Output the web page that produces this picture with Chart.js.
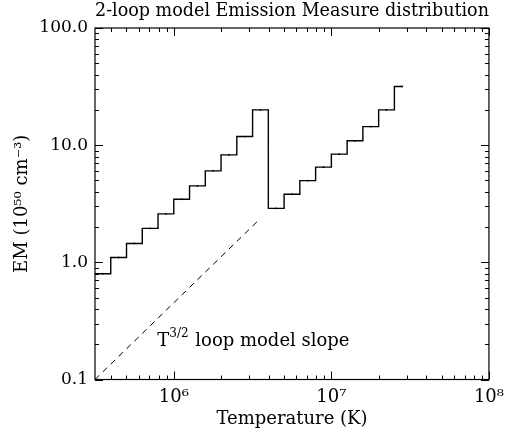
<!DOCTYPE html>
<html>
<head>
<meta charset="utf-8">
<script src="https://cdn.jsdelivr.net/npm/chart.js@4.4.1/dist/chart.umd.min.js"></script>
<style>
  html, body { margin: 0; padding: 0; background: #fff; }
  #wrap { width: 511px; height: 432px; }
</style>
</head>
<body>
<div id="wrap"><canvas id="drawChart" width="511" height="432"></canvas></div>
<script>
// histogram bin centres, log10 T (first one lies left of the axis and is clipped)
var logTemp = [5.45, 5.55, 5.65, 5.75, 5.85, 5.95, 6.05, 6.15, 6.25, 6.35, 6.45, 6.55,
               6.65, 6.75, 6.85, 6.95, 7.05, 7.15, 7.25, 7.35, 7.45];
// emission measure, 10^50 cm^-3
var emValues = [0.80, 0.80, 1.10, 1.45, 1.95, 2.59, 3.45, 4.49, 6.03, 8.26, 11.85, 20.0,
                2.89, 3.81, 4.98, 6.49, 8.38, 10.9, 14.4, 20.0, 31.7];
// T^3/2 reference slope (dashed)
var slopeLogTemp = [5.5, 6.54];
var slopeEm = [0.1, 2.3];
// annotation anchor
var noteLogTemp = 5.895;
var noteEm = 0.193;

var xTickValues = [1e6, 1e7, 1e8];
var xTickLabels = ['10\u2076', '10\u2077', '10\u2078'];
var yTickValues = [0.1, 1, 10, 100];
var yTickLabels = ['0.1', '1.0', '10.0', '100.0'];

var xMin = Math.pow(10, 5.5), xMax = 1e8;
var yMin = 0.1, yMax = 100;

var serif = '"DejaVu Serif", serif';

var histData = logTemp.map(function (lt, i) {
	return { x: Math.pow(10, lt), y: emValues[i] };
});
var slopeData = slopeLogTemp.map(function (lt, i) {
	return { x: Math.pow(10, lt), y: slopeEm[i] };
});

// box + inward minor/major ticks on all four sides, plus the slope label
var framePlugin = {
	id: 'frame',
	afterDraw: function (chart) {
		var ctx = chart.ctx, a = chart.chartArea;
		var xs = chart.scales.x, ys = chart.scales.y;
		ctx.save();
		ctx.strokeStyle = '#000';
		ctx.lineWidth = 1.2;
		ctx.strokeRect(a.left, a.top, a.right - a.left, a.bottom - a.top);
		ctx.lineWidth = 1;
		ctx.beginPath();
		for (var n = 5; n <= 8; n++) {
			for (var m = 1; m <= 9; m++) {
				var v = m * Math.pow(10, n);
				if (v < xMin * 0.999 || v > xMax * 1.001) continue;
				var px = Math.round(xs.getPixelForValue(v)) + 0.5;
				var len = m === 1 ? 8 : 4;
				ctx.moveTo(px, a.bottom); ctx.lineTo(px, a.bottom - len);
				ctx.moveTo(px, a.top); ctx.lineTo(px, a.top + len);
			}
		}
		for (var n2 = -1; n2 <= 2; n2++) {
			for (var m2 = 1; m2 <= 9; m2++) {
				var w = m2 * Math.pow(10, n2);
				if (w < yMin * 0.999 || w > yMax * 1.001) continue;
				var py = Math.round(ys.getPixelForValue(w)) + 0.5;
				var len2 = m2 === 1 ? 8 : 4;
				ctx.moveTo(a.left, py); ctx.lineTo(a.left + len2, py);
				ctx.moveTo(a.right, py); ctx.lineTo(a.right - len2, py);
			}
		}
		ctx.stroke();

		// T^{3/2} loop model slope
		var tx = xs.getPixelForValue(Math.pow(10, noteLogTemp));
		var ty = ys.getPixelForValue(noteEm);
		ctx.fillStyle = '#000';
		ctx.textBaseline = 'alphabetic';
		ctx.textAlign = 'left';
		ctx.font = '18px ' + serif;
		ctx.fillText('T', tx, ty);
		var tw = ctx.measureText('T').width;
		ctx.font = '12px ' + serif;
		ctx.fillText('3/2', tx + tw, ty - 9);
		var sw = ctx.measureText('3/2').width;
		ctx.font = '18px ' + serif;
		ctx.fillText(' loop model slope', tx + tw + sw + 1, ty);
		ctx.restore();
	}
};

var ctx = document.getElementById('drawChart').getContext('2d');
var drawChart = new Chart(ctx, {
	type: 'line',
	data: {
		datasets: [{
			data: histData,
			stepped: 'middle',
			borderColor: '#000',
			borderWidth: 1.4,
			pointRadius: 0.9,
			pointBackgroundColor: '#000',
			pointBorderWidth: 0,
			fill: false,
			clip: 0
		}, {
			data: slopeData,
			borderColor: '#000',
			borderWidth: 1,
			borderDash: [6, 5],
			pointRadius: 0,
			fill: false,
			clip: 0
		}]
	},
	options: {
		responsive: false,
		animation: false,
		events: [],
		layout: { padding: { left: 0, right: 15, top: 0, bottom: 0 } },
		plugins: {
			legend: { display: false },
			tooltip: { enabled: false },
			title: {
				display: true,
				text: '2-loop model Emission Measure distribution',
				fullSize: false,
				color: '#000',
				font: { family: serif, size: 18, weight: 'normal' },
				padding: { top: 1, bottom: 5.4 }
			}
		},
		scales: {
			x: {
				type: 'logarithmic',
				min: xMin,
				max: xMax,
				afterBuildTicks: function (scale) {
					scale.ticks = xTickValues.map(function (v) { return { value: v, major: true }; });
				},
				afterFit: function (scale) { scale.height = 52.5; },
				ticks: {
					autoSkip: false,
					maxRotation: 0,
					padding: 7,
					color: '#000',
					font: { family: serif, size: 18 },
					callback: function (value) {
						var i = xTickValues.indexOf(value);
						return i >= 0 ? xTickLabels[i] : '';
					}
				},
				grid: { display: false, drawTicks: false },
				border: { display: false },
				title: {
					display: true,
					text: 'Temperature (K)',
					color: '#000',
					font: { family: serif, size: 18 },
					padding: { top: 0, bottom: 2.2 }
				}
			},
			y: {
				type: 'logarithmic',
				min: yMin,
				max: yMax,
				afterBuildTicks: function (scale) {
					scale.ticks = yTickValues.map(function (v) { return { value: v, major: true }; });
				},
				afterFit: function (scale) { scale.width = 95; },
				ticks: {
					autoSkip: false,
					padding: 7,
					color: '#000',
					font: { family: serif, size: 17 },
					callback: function (value) {
						var i = yTickValues.indexOf(value);
						return i >= 0 ? yTickLabels[i] : '';
					}
				},
				grid: { display: false, drawTicks: false },
				border: { display: false },
				title: {
					display: true,
					text: 'EM (10\u2075\u2070 cm\u207B\u00B3)',
					color: '#000',
					font: { family: serif, size: 18 },
					padding: { top: 11.7, bottom: 0 }
				}
			}
		}
	},
	plugins: [framePlugin]
});
</script>
</body>
</html>
